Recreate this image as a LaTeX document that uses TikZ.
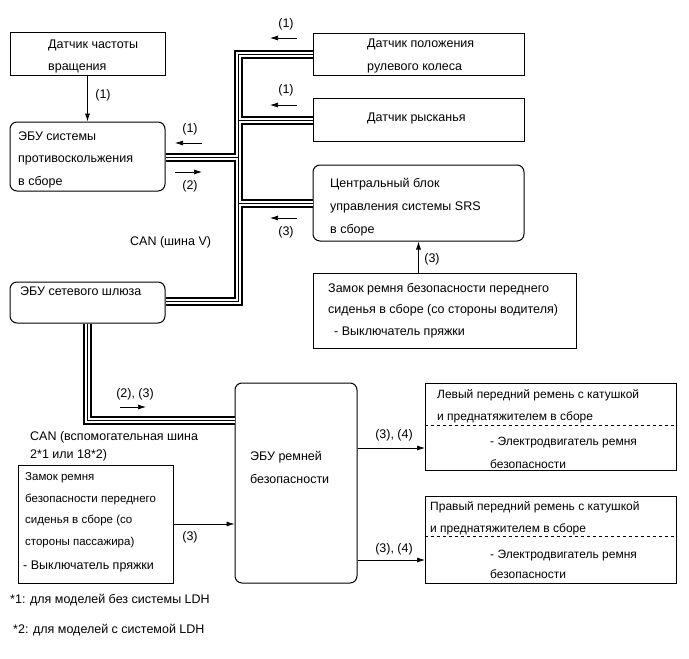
\documentclass[tikz,border=0pt]{standalone}
\usepackage{fontspec}
\setmainfont{Liberation Sans}
\usetikzlibrary{arrows.meta,calc}
\tikzset{
  box/.style={draw, line width=1pt, inner sep=0pt},
  rbox/.style={box, rounded corners=7pt},
  txt/.style={anchor=base west, inner sep=0pt, font=\fontsize{12.5}{14}\selectfont},
  btxt/.style={anchor=base west, inner sep=0pt, font=\fontsize{12}{14}\selectfont},
  stxt/.style={anchor=base west, inner sep=0pt, font=\fontsize{11.5}{13}\selectfont},
  lbl/.style={anchor=base, inner sep=0pt, font=\fontsize{12.5}{14}\selectfont},
  arr/.style={line width=0.7pt, -{Latex[length=8pt,width=5pt]}},
  busA/.style={line width=9pt, black},
  busB/.style={line width=5pt, white},
  busC/.style={line width=1pt, black},
}
\begin{document}
\begin{tikzpicture}[x=1pt,y=-1pt]
\useasboundingbox (0,0) rectangle (689,659);
% boxes
\node[box, minimum width=155pt, minimum height=43pt] (dfreq) at (87.5,53.5) {};
\node[rbox, minimum width=155pt, minimum height=69pt] (abs) at (87.5,156.5) {};
\node[box, minimum width=211pt, minimum height=42pt] (dsteer) at (418.5,54) {};
\node[box, minimum width=211pt, minimum height=43pt] (dyaw) at (418.5,119.5) {};
\node[rbox, minimum width=211pt, minimum height=76pt] (srs) at (418.5,203) {};
\node[box, minimum width=263pt, minimum height=75pt] (drvlock) at (444.5,310.5) {};
\node[rbox, minimum width=155pt, minimum height=41pt] (gw) at (87.5,302.5) {};
\node[rbox, minimum width=122pt, minimum height=200pt] (ecu) at (296,483) {};
\node[box, minimum width=251pt, minimum height=87pt] (lbelt) at (550.5,426.5) {};
\node[box, minimum width=251pt, minimum height=87pt] (rbelt) at (550.5,539.5) {};
\node[box, minimum width=155pt, minimum height=118pt] (plock) at (95.5,524) {};
\draw[dashed, line width=0.6pt] (lbelt.west |- 0,425) -- (lbelt.east |- 0,425);
\draw[dashed, line width=0.6pt] (rbelt.west |- 0,536) -- (rbelt.east |- 0,536);

% texts
\node[txt] at (48,48) {Датчик частоты};
\node[txt] at (48,70) {вращения};
\node[txt] at (18,140) {ЭБУ системы};
\node[txt] at (18,162) {противоскольжения};
\node[txt] at (18,185) {в сборе};
\node[txt] at (367,47) {Датчик положения};
\node[txt] at (367,70) {рулевого колеса};
\node[txt] at (367,121) {Датчик рысканья};
\node[txt] at (330,187) {Центральный блок};
\node[txt] at (330,210) {управления системы SRS};
\node[txt] at (330,233) {в сборе};
\node[txt] at (328,292) {Замок ремня безопасности переднего};
\node[txt] at (328,313) {сиденья в сборе (со стороны водителя)};
\node[txt] at (334,335) {- Выключатель пряжки};
\node[txt] at (20,295) {ЭБУ сетевого шлюза};
\node[txt] at (250,460) {ЭБУ ремней};
\node[txt] at (250,483) {безопасности};
\node[btxt] at (437,398) {Левый передний ремень с катушкой};
\node[btxt] at (437,420) {и преднатяжителем в сборе};
\node[btxt] at (490,445) {- Электродвигатель ремня};
\node[btxt] at (490,468) {безопасности};
\node[btxt] at (430,510) {Правый передний ремень с катушкой};
\node[btxt] at (430,532) {и преднатяжителем в сборе};
\node[btxt] at (490,558) {- Электродвигатель ремня};
\node[btxt] at (490,578) {безопасности};
\node[stxt] at (25,480) {Замок ремня};
\node[stxt] at (25,502) {безопасности переднего};
\node[stxt] at (25,523) {сиденья в сборе (со};
\node[stxt] at (25,545) {стороны пассажира)};
\node[txt] at (23,569) {- Выключатель пряжки};
\node[txt] at (130,245) {CAN (шина V)};
\node[txt] at (30,440) {CAN (вспомогательная шина};
\node[txt] at (30,458) {2*1 или 18*2)};
\node[txt] at (10,603) {*1: для моделей без системы LDH};
\node[txt] at (13,633) {*2: для моделей с системой LDH};

% CAN bus coordinates
\coordinate (tr) at (238,0);
\coordinate (gwb) at (87,420);
\foreach \s in {busA,busB,busC}{
  \draw[\s] (dsteer.west |- 0,54) -- (tr |- 0,54) -- (tr |- 0,301) -- (gw.east |- 0,301);
  \draw[\s] (abs.east |- 0,157.5) -- (tr |- 0,157.5);
  \draw[\s] (tr |- 0,120) -- (dyaw.west |- 0,120);
  \draw[\s] (tr |- 0,203) -- (srs.west |- 0,203);
  \draw[\s] (gw.south -| gwb) -- (gwb) -- (ecu.west |- gwb);
}

% connectors
\draw[arr] (dfreq.south) -- (abs.north);
\node[lbl] at (103,98) {(1)};
\draw[arr] (srs.south |- drvlock.north) -- (srs.south);
\node[lbl] at (432,262) {(3)};
\draw[arr] (plock.east) -- (ecu.west |- plock.east);
\node[lbl] at (190,540) {(3)};
\coordinate (a1) at (425,448);
\coordinate (a2) at (425,560);
\draw[arr] (ecu.east |- a1) -- (a1);
\draw[arr] (ecu.east |- a2) -- (a2);
\node[lbl] at (394,438) {(3), (4)};
\node[lbl] at (394,552) {(3), (4)};

% direction indicators
\draw[arr] (297,38) -- (270,38);
\node[lbl] at (286,27) {(1)};
\draw[arr] (297,105) -- (270,105);
\node[lbl] at (286,93) {(1)};
\draw[arr] (202,143) -- (175,143);
\node[lbl] at (190,132) {(1)};
\draw[arr] (175,172) -- (202,172);
\node[lbl] at (190,189) {(2)};
\draw[arr] (297,218) -- (270,218);
\node[lbl] at (286,235) {(3)};
\draw[arr] (120,407) -- (146,407);
\node[lbl] at (135,397) {(2), (3)};
\end{tikzpicture}
\end{document}
